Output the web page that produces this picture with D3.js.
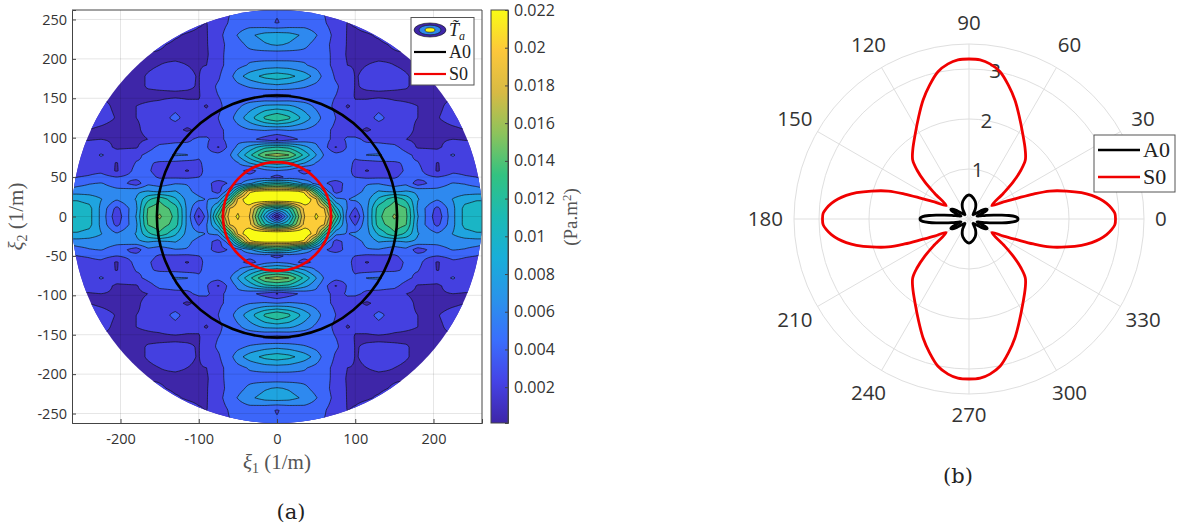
<!DOCTYPE html>
<html>
<head>
<meta charset="utf-8">
<script src="https://cdn.jsdelivr.net/npm/d3@7"></script>
<style>
  html, body { margin: 0; background: #fff; }
  svg { display: block; }
  text { font-family: "Open Sans", sans-serif; fill: #333; }
  .serif { font-family: "Liberation Serif", serif; fill: #222; }
</style>
</head>
<body>
<svg id="chart" width="1180" height="528"></svg>
<script>
// field grid, one quadrant (values in 1e-3 Pa.m2), rows go up in xi2
const xi1Grid = [0, 15, 35, 50, 60, 75, 90, 100, 115, 130, 150, 165, 180, 205, 225, 240, 255, 270];
const xi2Grid = [0, 10, 22, 32, 42, 50, 58, 68, 78, 88, 98, 110, 125, 140, 153, 165, 178, 192, 205, 218, 230, 245, 258, 270];
const fieldRows = [
  [0.3, 8, 18.3, 20.2, 19.4, 13, 4.5, 1.8, 7, 12.3, 14.9, 13.2, 7.5, 2.5, 7, 9.8, 10.5, 10.5],
  [9, 11, 18.8, 19.7, 18.5, 10, 5.5, 3.5, 7, 12, 14, 13, 7, 3.2, 7, 9.8, 10.2, 10.2],
  [23, 23, 22, 18.5, 12, 6, 5.5, 6, 6.8, 9.5, 12.4, 10.5, 7.5, 5.8, 7.5, 8.5, 9, 9],
  [20.5, 20.6, 19.6, 12, 7, 3, 4.5, 5, 6, 7.5, 7, 7.5, 7, 6, 6.3, 6.5, 6.5, 6.5],
  [11, 10, 7, 5, 4, 3.2, 4.2, 5, 5.5, 5.5, 4.7, 5.2, 2.8, 5, 5.7, 5.5, 5, 4],
  [3, 4.5, 4.5, 4.5, 4.2, 4.5, 4.2, 3.8, 3.4, 3.5, 3.6, 4.3, 4.5, 3.8, 4.5, 4, 3.8, 3],
  [5.5, 5, 3, 4.5, 4.6, 4.8, 4.6, 3, 1.8, 3, 3.2, 4, 4.4, 1.8, 3.4, 3.3, 3, 2.5],
  [10, 9.5, 7.5, 5.5, 4.5, 4.6, 4.6, 3.4, 3, 3.3, 3.6, 4, 3.9, 1.9, 3, 3, 2.8, 2.5],
  [15.5, 14.7, 10.5, 7.5, 5.5, 4.5, 4.4, 4.2, 5.7, 5.8, 4.8, 4.2, 3.4, 2.8, 4, 2.8, 2.5, 2.5],
  [11, 10.5, 8, 6, 4.6, 1.8, 4, 4.2, 4.4, 4.4, 4.2, 3.2, 1.8, 1.7, 2.8, 2.6, 2.5, 2.5],
  [1.9, 3, 4.4, 5, 4.5, 3.2, 4, 4.2, 3.4, 3.3, 3, 2, 1.6, 1.8, 2, 1.9, 1.9, 1.9],
  [5.6, 5.8, 5.5, 4.8, 4.2, 3.5, 3.2, 2.5, 1.7, 2.6, 2.8, 2.5, 1.7, 1.6, 1.8, 2, 2.2, 2.2],
  [12.9, 11.5, 8.5, 6.5, 5, 3.8, 3, 2.6, 3.2, 4.3, 3, 2.3, 2, 1.95, 2.4, 2.5, 2.5, 2.5],
  [8, 7.8, 6.5, 5.2, 4.4, 3.5, 1.8, 2.4, 2.6, 3.2, 2.4, 2.2, 2, 1.8, 2.3, 2.5, 2.5, 2.5],
  [3.2, 3.5, 4, 4.3, 4.3, 3.8, 3.2, 1.8, 1.7, 1.7, 1.7, 1.7, 1.7, 1.8, 1.9, 1.8, 1.8, 1.8],
  [6.8, 6.5, 5.8, 5, 4.4, 4, 3.2, 1.9, 2.2, 2.3, 2.2, 2.1, 1.7, 1.6, 1.7, 1.7, 1.7, 1.7],
  [10.3, 9.8, 8.3, 6.7, 5, 3.6, 3.2, 1.9, 2.3, 2.5, 2.4, 2.1, 1.7, 1.7, 1.7, 1.7, 1.7, 1.7],
  [6.5, 6.4, 5.8, 5, 4.4, 3.3, 2, 1.8, 2, 2.1, 2, 1.8, 1.7, 1.7, 1.7, 1.7, 1.7, 1.7],
  [4.4, 4.5, 5, 5, 4.5, 3.2, 1.8, 1.8, 1.85, 1.85, 1.9, 1.8, 1.8, 1.8, 1.8, 1.8, 1.8, 1.8],
  [7.6, 7.2, 6, 5, 4.5, 3, 1.9, 1.7, 1.85, 1.85, 2.1, 2.5, 2.5, 2.5, 2.5, 2.5, 2.5, 2.5],
  [8.5, 8.2, 7, 5.7, 4.8, 3.2, 1.9, 1.8, 1.9, 2.1, 2.5, 2.5, 2.5, 2.5, 2.5, 2.5, 2.5, 2.5],
  [3.7, 4.2, 4.8, 4.6, 4, 3, 1.95, 2.1, 2.4, 2.5, 2.5, 2.5, 2.5, 2.5, 2.5, 2.5, 2.5, 2.5],
  [3.9, 4, 4.2, 4, 3.8, 3, 2.5, 2.4, 2.5, 2.5, 2.5, 2.5, 2.5, 2.5, 2.5, 2.5, 2.5, 2.5],
  [4, 4, 4, 3.8, 3.5, 3, 2.5, 2.5, 2.5, 2.5, 2.5, 2.5, 2.5, 2.5, 2.5, 2.5, 2.5, 2.5]
];
const levelBreaks = [2, 3.8, 5.6, 7.4, 9.2, 11, 12.8, 14.6, 16.4, 18.2, 20];
const parulaStops = ['#3e26a8', '#4543e6', '#3a6efd', '#2a93ea', '#18aed9', '#1cbab4', '#32c281', '#8cc35c', '#d7ba44', '#fcc73b', '#f9fb15'];

const a0Wavenumber = 153.5;
const s0Wavenumber = 69;
const diskRadius = 262;
const xTicks = [-200, -100, 0, 100, 200];
const yTicks = [-250, -200, -150, -100, -50, 0, 50, 100, 150, 200, 250];
const barTicks = [0.002, 0.004, 0.006, 0.008, 0.01, 0.012, 0.014, 0.016, 0.018, 0.02, 0.022];

// polar curves, first quadrant, mirrored below
const s0Theta = [0, 2.2, 4.3, 6.5, 8.7, 10.9, 13.2, 16, 19.1, 21.2, 23.4, 26.3, 30.5, 36.8, 40.1, 43.3, 46.3, 50.8, 57.9, 63.8, 68.9, 73.6, 78.1, 82.3, 86, 90];
const s0R = [2.93, 2.92, 2.86, 2.77, 2.65, 2.5, 2.31, 2.03, 1.71, 1.38, 1.04, 0.77, 0.53, 0.86, 1.16, 1.43, 1.63, 1.78, 2.02, 2.28, 2.55, 2.79, 3.01, 3.13, 3.19, 3.2];
const a0Theta = [0, 1.5, 3, 5, 7, 9, 12, 16, 20, 23, 26, 28, 31, 35, 40, 46, 52, 58, 63, 70, 76, 82, 86, 90];
const a0R = [0.98, 0.97, 0.93, 0.8, 0.63, 0.5, 0.35, 0.22, 0.17, 0.26, 0.39, 0.41, 0.38, 0.28, 0.17, 0.12, 0.15, 0.24, 0.3, 0.37, 0.41, 0.45, 0.47, 0.48];
const polarAngles = d3.range(0, 360, 30);
const polarRings = [1, 2, 3, 3.5];
const polarRadialLabels = [1, 2, 3];

const svg = d3.select('#chart');
const parula = d3.scaleLinear().domain(parulaStops.map((c, i) => i / (parulaStops.length - 1))).range(parulaStops).interpolate(d3.interpolateRgb);

// ---------- panel (a) ----------
const x = d3.scaleLinear().domain([-262, 262]).range([72, 482]);
const y = d3.scaleLinear().domain([-262, 262]).range([423, 10]);

function fieldAt(px, py) {
  const ax = Math.min(Math.abs(px), 269.99), ay = Math.min(Math.abs(py), 269.99);
  const i = d3.bisectRight(xi1Grid, ax) - 1, j = d3.bisectRight(xi2Grid, ay) - 1;
  const tx = (ax - xi1Grid[i]) / (xi1Grid[i + 1] - xi1Grid[i]);
  const ty = (ay - xi2Grid[j]) / (xi2Grid[j + 1] - xi2Grid[j]);
  const lo = fieldRows[j][i] * (1 - tx) + fieldRows[j][i + 1] * tx;
  const hi = fieldRows[j + 1][i] * (1 - tx) + fieldRows[j + 1][i + 1] * tx;
  return lo * (1 - ty) + hi * ty;
}

const step = 2, half = 270, n = half * 2 / step + 1;
const values = new Array(n * n);
for (let j = 0; j < n; j++) {
  for (let i = 0; i < n; i++) {
    values[j * n + i] = fieldAt(-half + i * step, -half + j * step);
  }
}

const defs = svg.append('defs');
defs.append('clipPath').attr('id', 'disk').append('ellipse')
  .attr('cx', x(0)).attr('cy', y(0))
  .attr('rx', x(diskRadius) - x(0)).attr('ry', y(0) - y(diskRadius));

const toPx = d3.geoTransform({
  point(a, b) {
    this.stream.point(x(-half + (a - 0.5) * step), y(-half + (b - 0.5) * step));
  }
});
const contourPath = d3.geoPath(toPx);
const bandColor = i => parula(i / levelBreaks.length);

const field = svg.append('g').attr('clip-path', 'url(#disk)');
field.append('rect')
  .attr('x', x(-262)).attr('y', y(262))
  .attr('width', x(262) - x(-262)).attr('height', y(-262) - y(262))
  .attr('fill', bandColor(0));
field.selectAll('path')
  .data(d3.contours().size([n, n]).thresholds(levelBreaks)(values))
  .enter().append('path')
  .attr('d', contourPath)
  .attr('fill', (d, i) => bandColor(i + 1))
  .attr('stroke', '#111')
  .attr('stroke-opacity', 0.85)
  .attr('stroke-width', 0.8);

// grid sits over the filled field
const grid = svg.append('g').attr('stroke', '#000').attr('stroke-opacity', 0.13).attr('stroke-width', 0.8);
xTicks.forEach(t => grid.append('line').attr('x1', x(t)).attr('x2', x(t)).attr('y1', y(-262)).attr('y2', y(262)));
yTicks.forEach(t => grid.append('line').attr('y1', y(t)).attr('y2', y(t)).attr('x1', x(-262)).attr('x2', x(262)));

svg.append('ellipse').attr('cx', x(0)).attr('cy', y(0))
  .attr('rx', x(a0Wavenumber) - x(0)).attr('ry', y(0) - y(a0Wavenumber))
  .attr('fill', 'none').attr('stroke', '#000').attr('stroke-width', 2.6);
svg.append('ellipse').attr('cx', x(0)).attr('cy', y(0))
  .attr('rx', x(s0Wavenumber) - x(0)).attr('ry', y(0) - y(s0Wavenumber))
  .attr('fill', 'none').attr('stroke', '#f00000').attr('stroke-width', 2.6);

const xAxis = svg.append('g').attr('transform', `translate(0,${y(-262)})`)
  .call(d3.axisBottom(x).tickValues(xTicks).tickSize(-4).tickPadding(11).tickFormat(String));
const yAxis = svg.append('g').attr('transform', `translate(${x(-262)},0)`)
  .call(d3.axisLeft(y).tickValues(yTicks).tickSize(-4).tickPadding(5).tickFormat(String));
[xAxis, yAxis].forEach(a => {
  a.selectAll('text').attr('font-size', 14.5).attr('font-family', '"Open Sans", sans-serif').attr('fill', '#333');
  a.selectAll('line').attr('stroke', '#444');
  a.select('.domain').attr('stroke', '#444');
});
svg.append('path')
  .attr('d', `M${x(-262)},${y(262)}H${x(262)}V${y(-262)}`)
  .attr('fill', 'none').attr('stroke', '#444');

const xLabel = svg.append('text').attr('class', 'serif').attr('x', x(0)).attr('y', 469).attr('text-anchor', 'middle').attr('font-size', 21).style('fill', '#555');
xLabel.append('tspan').attr('font-style', 'italic').text('ξ');
xLabel.append('tspan').attr('dy', 4).attr('font-size', 14).text('1');
xLabel.append('tspan').attr('dy', -4).text('  (1/m)');
const yLabel = svg.append('text').attr('class', 'serif').attr('transform', `translate(23,${y(0)}) rotate(-90)`).attr('text-anchor', 'middle').attr('font-size', 21).style('fill', '#555');
yLabel.append('tspan').attr('font-style', 'italic').text('ξ');
yLabel.append('tspan').attr('dy', 4).attr('font-size', 14).text('2');
yLabel.append('tspan').attr('dy', -4).text('  (1/m)');

// legend of panel (a)
const legA = svg.append('g');
legA.append('rect').attr('x', 411).attr('y', 17.5).attr('width', 63).attr('height', 67.5)
  .attr('fill', '#fff').attr('stroke', '#555');
[[16, 0], [11, 3], [5, 11]].forEach(([rx, k]) => {
  legA.append('ellipse').attr('cx', 430).attr('cy', 30).attr('rx', rx).attr('ry', rx * 0.44)
    .attr('fill', bandColor(k)).attr('stroke', '#111').attr('stroke-width', 0.6);
});
legA.append('line').attr('x1', 414).attr('x2', 446).attr('y1', 52).attr('y2', 52).attr('stroke', '#000').attr('stroke-width', 2.2);
legA.append('line').attr('x1', 414).attr('x2', 446).attr('y1', 74).attr('y2', 74).attr('stroke', '#f00000').attr('stroke-width', 2.2);
const tLabel = legA.append('text').attr('class', 'serif').attr('x', 449).attr('y', 36).attr('font-size', 18);
tLabel.append('tspan').attr('font-style', 'italic').text('T\u0303');
tLabel.append('tspan').attr('dy', 4).attr('font-size', 12).attr('font-style', 'italic').text('a');
legA.append('text').attr('class', 'serif').attr('x', 449).attr('y', 58).attr('font-size', 18).text('A0');
legA.append('text').attr('class', 'serif').attr('x', 449).attr('y', 80).attr('font-size', 18).text('S0');

// colorbar
const barScale = d3.scaleLinear().domain([0.0001, 0.022]).range([423, 10]);
const grad = defs.append('linearGradient').attr('id', 'parula').attr('x1', 0).attr('x2', 0).attr('y1', 1).attr('y2', 0);
parulaStops.forEach((c, i) => grad.append('stop').attr('offset', i / (parulaStops.length - 1)).attr('stop-color', c));
svg.append('rect').attr('x', 491).attr('y', 10).attr('width', 17).attr('height', 413).attr('fill', 'url(#parula)');
const barAxis = svg.append('g').attr('transform', 'translate(508,0)')
  .call(d3.axisRight(barScale).tickValues(barTicks).tickSize(-3).tickPadding(6).tickFormat(d => String(d)));
barAxis.selectAll('text').attr('font-size', 16).attr('font-family', '"Open Sans", sans-serif').attr('fill', '#333');
barAxis.selectAll('line').attr('stroke', '#444');
barAxis.select('.domain').attr('stroke', '#444');
svg.append('rect').attr('x', 491).attr('y', 10).attr('width', 17).attr('height', 413).attr('fill', 'none').attr('stroke', '#444');

const barLabel = svg.append('text').attr('class', 'serif').attr('transform', 'translate(577,217) rotate(-90)').attr('text-anchor', 'middle').attr('font-size', 19).style('fill', '#555');
barLabel.append('tspan').text('(Pa.m');
barLabel.append('tspan').attr('dy', -6).attr('font-size', 13).text('2');
barLabel.append('tspan').attr('dy', 6).text(')');

svg.append('text').attr('x', 291).attr('y', 519).attr('text-anchor', 'middle').attr('font-size', 21).style('font-family', '"DejaVu Serif", serif').style('fill', '#222').text('(a)');

// ---------- panel (b) ----------
const cx = 969, cy = 219;
const r = d3.scaleLinear().domain([0, 3.5]).range([0, 175]);
const polar = svg.append('g').attr('transform', `translate(${cx},${cy})`);
const polarXY = (deg, rad) => [rad * Math.cos(deg * Math.PI / 180), -rad * Math.sin(deg * Math.PI / 180)];

polarRings.forEach(v => polar.append('circle').attr('r', r(v)).attr('fill', 'none').attr('stroke', '#dfdfdf').attr('stroke-width', 1));
polarAngles.forEach(a => {
  const [ex, ey] = polarXY(a, r(3.5));
  polar.append('line').attr('x2', ex).attr('y2', ey).attr('stroke', '#dfdfdf').attr('stroke-width', 1);
  const labelRadius = (a === 0 || a === 180) ? 186 : (a === 90 || a === 270) ? 196 : 201;
  const [lx, ly] = polarXY(a, labelRadius);
  polar.append('text').attr('x', lx).attr('y', ly).attr('dy', '0.35em')
    .attr('text-anchor', a === 0 ? 'start' : a === 180 ? 'end' : 'middle')
    .attr('font-size', 20.5).text(a);
});
polarRadialLabels.forEach(v => {
  const [lx, ly] = polarXY(80, r(v));
  polar.append('text').attr('x', lx).attr('y', ly).attr('dy', '0.35em').attr('text-anchor', 'middle').attr('font-size', 20.5).text(v);
});

// quadrant data mirrored round the full circle
function fullCurve(theta, rad) {
  const pts = theta.map((t, i) => [t, rad[i]]);
  const q2 = pts.slice(0, -1).reverse().map(([t, v]) => [180 - t, v]);
  const half1 = pts.concat(q2);
  const half2 = half1.slice(1, -1).map(([t, v]) => [180 + t, v]);
  return half1.concat(half2);
}
const radial = d3.lineRadial()
  .angle(d => (90 - d[0]) * Math.PI / 180)
  .radius(d => r(d[1]))
  .curve(d3.curveCatmullRomClosed.alpha(0.5));
polar.append('path').attr('d', radial(fullCurve(a0Theta, a0R))).attr('fill', 'none').attr('stroke', '#000').attr('stroke-width', 2.8);
polar.append('path').attr('d', radial(fullCurve(s0Theta, s0R))).attr('fill', 'none').attr('stroke', '#f00000').attr('stroke-width', 2.8);

// legend of panel (b)
const legB = svg.append('g');
legB.append('rect').attr('x', 1094).attr('y', 135).attr('width', 81).attr('height', 57).attr('fill', '#fff').attr('stroke', '#555');
legB.append('line').attr('x1', 1098).attr('x2', 1140).attr('y1', 150).attr('y2', 150).attr('stroke', '#000').attr('stroke-width', 2.4);
legB.append('line').attr('x1', 1098).attr('x2', 1140).attr('y1', 177).attr('y2', 177).attr('stroke', '#f00000').attr('stroke-width', 2.4);
legB.append('text').attr('class', 'serif').attr('x', 1143).attr('y', 157).attr('font-size', 22).text('A0');
legB.append('text').attr('class', 'serif').attr('x', 1143).attr('y', 184).attr('font-size', 22).text('S0');

svg.append('text').attr('x', 958).attr('y', 483).attr('text-anchor', 'middle').attr('font-size', 21).style('font-family', '"DejaVu Serif", serif').style('fill', '#222').text('(b)');
</script>
</body>
</html>
